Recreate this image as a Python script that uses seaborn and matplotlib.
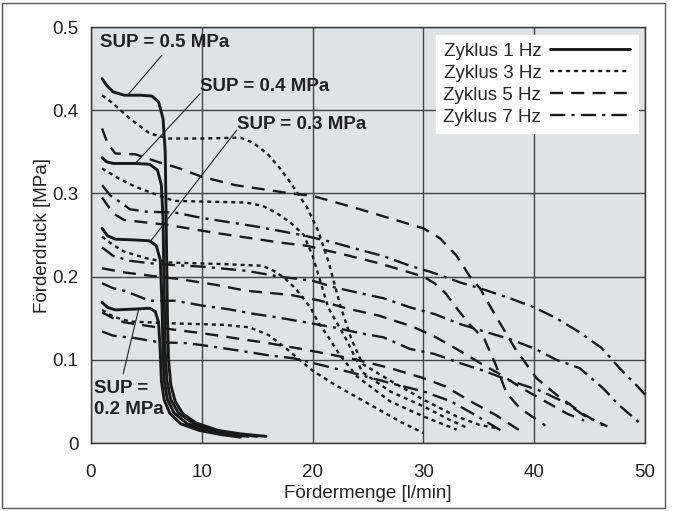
import matplotlib
matplotlib.use("Agg")
import matplotlib.pyplot as plt
import seaborn as sns
import pandas as pd
from matplotlib.patches import Rectangle

# Kennlinien (Fördermenge [l/min], Förderdruck [MPa])
hz1_sup05 = [(1.0, 0.438), (1.4, 0.43), (2.0, 0.422), (3.0, 0.418), (4.5, 0.418), (5.5, 0.417),
             (6.1, 0.41), (6.5, 0.39), (6.7, 0.35), (6.8, 0.25), (6.9, 0.15), (7.0, 0.10),
             (7.2, 0.07), (7.6, 0.05), (8.3, 0.035), (9.5, 0.024), (11.5, 0.015), (13.5, 0.011),
             (15.8, 0.008)]
hz1_sup04 = [(1.0, 0.343), (1.4, 0.338), (2.0, 0.336), (4.0, 0.336), (5.3, 0.335), (6.0, 0.328),
             (6.35, 0.31), (6.5, 0.27), (6.6, 0.18), (6.7, 0.11), (6.85, 0.075), (7.2, 0.052),
             (7.9, 0.036), (9.2, 0.024), (11.2, 0.015), (13.5, 0.01), (15.0, 0.008)]
hz1_sup03 = [(1.0, 0.258), (1.5, 0.249), (2.2, 0.245), (4.0, 0.244), (5.3, 0.243), (5.9, 0.237),
             (6.25, 0.22), (6.4, 0.17), (6.5, 0.11), (6.6, 0.075), (6.9, 0.052), (7.5, 0.036),
             (8.7, 0.023), (10.6, 0.015), (12.5, 0.01), (14.2, 0.008)]
hz1_sup02 = [(1.0, 0.169), (1.5, 0.163), (2.2, 0.16), (4.0, 0.161), (5.3, 0.162), (5.8, 0.158),
             (6.1, 0.145), (6.25, 0.11), (6.35, 0.075), (6.6, 0.052), (7.1, 0.036), (8.1, 0.023),
             (9.8, 0.015), (11.8, 0.01), (13.5, 0.007)]

hz3_sup05 = [(1.0, 0.418), (2.0, 0.408), (3.5, 0.39), (5.3, 0.372), (7.0, 0.366), (10.0, 0.366),
             (13.5, 0.367), (14.6, 0.361), (15.9, 0.348), (17.0, 0.331), (18.0, 0.313),
             (19.5, 0.283), (20.5, 0.255), (21.5, 0.215), (22.5, 0.165), (23.5, 0.125),
             (24.5, 0.095), (27.0, 0.075), (30.0, 0.052), (33.0, 0.032), (35.0, 0.022),
             (36.5, 0.018)]
hz3_sup04 = [(1.0, 0.33), (2.5, 0.318), (4.0, 0.308), (6.0, 0.298), (7.5, 0.291), (14.0, 0.289),
             (15.5, 0.285), (16.8, 0.276), (18.0, 0.265), (19.2, 0.25), (20.0, 0.225),
             (20.8, 0.19), (21.4, 0.163), (23.1, 0.123), (24.5, 0.085), (27.0, 0.062),
             (30.0, 0.044), (32.5, 0.027), (34.0, 0.018)]
hz3_sup03 = [(1.0, 0.248), (2.0, 0.238), (3.0, 0.23), (5.0, 0.222), (7.0, 0.217), (12.0, 0.215),
             (15.5, 0.213), (16.5, 0.207), (17.5, 0.198), (18.5, 0.185), (19.8, 0.163),
             (20.5, 0.145), (21.3, 0.13), (22.5, 0.105), (24.0, 0.08), (27.0, 0.05),
             (30.0, 0.032), (33.0, 0.016)]
hz3_sup02 = [(1.0, 0.16), (2.0, 0.152), (3.5, 0.146), (7.0, 0.144), (12.0, 0.142), (14.3, 0.139),
             (16.0, 0.13), (17.5, 0.115), (19.0, 0.098), (20.0, 0.087), (22.0, 0.07),
             (24.0, 0.055), (26.0, 0.04), (28.0, 0.025), (30.0, 0.012)]

hz5_sup05 = [(1.0, 0.378), (1.5, 0.36), (2.2, 0.348), (4.0, 0.347), (6.0, 0.338), (8.0, 0.33),
             (10.0, 0.32), (13.0, 0.31), (18.0, 0.3), (20.0, 0.297), (24.0, 0.282), (27.0, 0.27),
             (30.0, 0.258), (31.5, 0.246), (33.0, 0.225), (34.2, 0.2), (35.1, 0.186),
             (36.6, 0.151), (38.3, 0.113), (40.2, 0.078), (42.0, 0.058), (44.3, 0.036),
             (46.2, 0.021)]
hz5_sup04 = [(1.0, 0.295), (2.0, 0.276), (3.0, 0.268), (5.0, 0.265), (7.0, 0.262), (11.0, 0.253),
             (14.0, 0.247), (17.0, 0.241), (19.5, 0.237), (23.0, 0.226), (26.0, 0.216),
             (28.5, 0.206), (30.0, 0.2), (31.0, 0.192), (32.0, 0.18), (33.0, 0.162),
             (34.2, 0.142), (35.5, 0.125), (36.5, 0.095), (37.5, 0.06), (38.7, 0.042),
             (40.0, 0.03), (41.0, 0.021)]
hz5_sup03 = [(1.0, 0.21), (3.0, 0.205), (6.0, 0.2), (8.0, 0.197), (11.3, 0.19), (14.0, 0.183),
             (18.0, 0.178), (20.7, 0.171), (23.0, 0.162), (26.0, 0.153), (29.0, 0.14),
             (31.0, 0.128), (33.0, 0.113), (35.0, 0.097), (37.0, 0.082), (39.0, 0.065),
             (41.0, 0.05), (43.0, 0.035), (44.5, 0.027)]
hz5_sup02 = [(1.0, 0.157), (2.0, 0.15), (3.0, 0.145), (6.0, 0.139), (7.6, 0.136), (10.0, 0.132),
             (13.0, 0.126), (16.0, 0.12), (19.0, 0.113), (21.0, 0.108), (24.0, 0.1), (27.0, 0.09),
             (30.0, 0.078), (32.0, 0.068), (34.0, 0.052), (36.6, 0.033), (38.7, 0.015)]

hz7_sup05 = [(1.0, 0.31), (1.7, 0.298), (2.8, 0.288), (3.5, 0.281), (5.0, 0.278), (7.6, 0.277),
             (9.8, 0.271), (15.0, 0.26), (19.0, 0.25), (21.6, 0.242), (24.3, 0.232), (26.3, 0.225),
             (28.8, 0.213), (30.8, 0.205), (33.3, 0.193), (35.1, 0.186), (37.8, 0.174),
             (40.0, 0.163), (42.0, 0.15), (44.1, 0.133), (46.1, 0.114), (47.7, 0.09),
             (49.4, 0.067), (50.0, 0.058)]
hz7_sup04 = [(1.0, 0.235), (2.0, 0.225), (3.5, 0.219), (6.0, 0.215), (10.0, 0.212), (14.0, 0.207),
             (17.0, 0.2), (20.0, 0.195), (22.0, 0.187), (24.3, 0.18), (26.4, 0.174), (28.8, 0.163),
             (31.0, 0.155), (33.3, 0.143), (36.0, 0.132), (38.0, 0.124), (40.1, 0.113),
             (42.0, 0.1), (44.1, 0.09), (46.2, 0.066), (47.7, 0.045), (49.8, 0.021)]
hz7_sup03 = [(1.0, 0.192), (2.0, 0.186), (3.0, 0.183), (5.3, 0.171), (7.6, 0.171), (10.1, 0.165),
             (12.3, 0.161), (14.8, 0.155), (16.8, 0.151), (19.8, 0.144), (21.9, 0.139),
             (24.3, 0.132), (26.4, 0.127), (28.8, 0.113), (31.0, 0.107), (33.3, 0.096),
             (35.4, 0.087), (37.8, 0.075), (40.5, 0.063), (42.9, 0.048), (44.5, 0.033),
             (46.6, 0.02)]
hz7_sup02 = [(1.0, 0.134), (2.0, 0.129), (4.0, 0.126), (6.2, 0.121), (8.7, 0.12), (11.4, 0.115),
             (13.4, 0.111), (16.2, 0.105), (18.2, 0.102), (21.0, 0.093), (24.0, 0.083),
             (27.0, 0.072), (30.0, 0.062), (32.5, 0.05), (34.5, 0.035), (37.0, 0.015)]

x_ticks = [0, 10, 20, 30, 40, 50]
y_ticks = [0, 0.1, 0.2, 0.3, 0.4, 0.5]
y_ticklabels = ["0", "0.1", "0.2", "0.3", "0.4", "0.5"]

familien = [
    ("Zyklus 1 Hz", "-", 2.1, [hz1_sup05, hz1_sup04, hz1_sup03, hz1_sup02]),
    ("Zyklus 3 Hz", (0, (1.7, 1.7)), 1.7, [hz3_sup05, hz3_sup04, hz3_sup03, hz3_sup02]),
    ("Zyklus 5 Hz", (0, (5.5, 3.5)), 1.7, [hz5_sup05, hz5_sup04, hz5_sup03, hz5_sup02]),
    ("Zyklus 7 Hz", (0, (6.5, 2.6, 1.3, 2.6)), 1.7, [hz7_sup05, hz7_sup04, hz7_sup03, hz7_sup02]),
]

sns.set_theme(style="white")
plt.rcParams["font.family"] = ["Liberation Sans", "DejaVu Sans"]
fs = 13.5

fig = plt.figure(figsize=(6.74, 5.11), dpi=100)
ax = fig.add_axes([91 / 674, 1 - 443 / 511, 554 / 674, 416 / 511])
ax.set_facecolor("#e1e2e4")

# Rahmen um die ganze Grafik
fig.patches.append(Rectangle((2 / 674, 3 / 511), 663 / 674, 505 / 511, transform=fig.transFigure,
                             fill=False, edgecolor="#555555", linewidth=1.0))

for label, ls, lw, kurven in familien:
    for i, kurve in enumerate(kurven):
        df = pd.DataFrame(kurve, columns=["Q", "p"])
        sns.lineplot(data=df, x="Q", y="p", ax=ax, color="#1a1a1a", linestyle=ls,
                     linewidth=lw, sort=False, estimator=None,
                     label=label if i == 0 else None, legend=False)

ax.set_xlim(0, 50)
ax.set_ylim(0, 0.5)
ax.set_xticks(x_ticks)
ax.set_yticks(y_ticks)
ax.set_yticklabels(y_ticklabels)
ax.tick_params(axis="both", length=0, labelsize=fs, colors="#222222")
ax.tick_params(axis="x", pad=15)
ax.tick_params(axis="y", pad=9)
ax.grid(True, color="#444444", linewidth=1.0)
ax.set_axisbelow(True)
for s in ax.spines.values():
    s.set_color("#333333")
    s.set_linewidth(1.0)

ax.set_xlabel("Fördermenge [l/min]", fontsize=fs, color="#222222", labelpad=3)
ax.set_ylabel("Förderdruck [MPa]", fontsize=fs, color="#222222", labelpad=1)

# Beschriftungen der Versorgungsdrücke
txt = dict(fontsize=fs, fontweight="bold", color="#222222", va="center", ha="left")
ax.text(0.8, 0.481, "SUP = 0.5 MPa", **txt)
ax.text(9.85, 0.429, "SUP = 0.4 MPa", **txt)
ax.text(13.15, 0.383, "SUP = 0.3 MPa", **txt)
ax.text(0.3, 0.053, "SUP =\n0.2 MPa", linespacing=1.25, **txt)
lk = dict(color="#222222", linewidth=0.8)
ax.plot([6.4, 3.3], [0.466, 0.418], **lk)
ax.plot([9.85, 4.0], [0.42, 0.336], **lk)
ax.plot([13.15, 5.4], [0.376, 0.243], **lk)
ax.plot([2.9, 4.3], [0.083, 0.161], **lk)

leg = ax.legend(loc="upper right", bbox_to_anchor=(0.987, 0.981), borderaxespad=0,
                markerfirst=False, handlelength=4.3, fontsize=fs, frameon=True,
                fancybox=False, labelspacing=0.26, borderpad=0.4, handletextpad=0.45)
leg.get_frame().set_facecolor("white")
leg.get_frame().set_edgecolor("white")
leg.get_frame().set_alpha(1)

fig.savefig("out.png", dpi=100)
